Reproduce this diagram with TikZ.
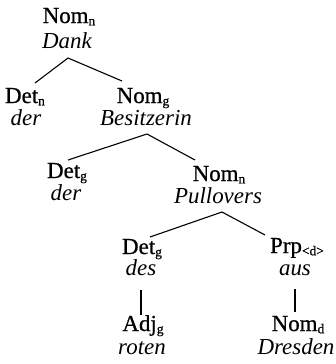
\documentclass[tikz,border=0pt]{standalone}
\usepackage{fontspec}
\setmainfont{Liberation Serif}
\newfontfamily\treefont{Liberation Serif}[AutoFakeBold=0.7]
\usetikzlibrary{calc}
\newcommand\lowsub[1]{\raisebox{-0.1em}[0pt][0pt]{\fontsize{13.5}{14}\selectfont #1}}
\tikzset{
  cat/.style={anchor=base,inner sep=0pt,font=\treefont\bfseries\fontsize{23}{24}\selectfont},
  word/.style={anchor=base,inner sep=0pt,font=\treefont\bfseries\fontsize{23}{24}\selectfont\itshape},
  edge/.style={draw=black,line width=1.1bp}
}
\begin{document}
\begin{tikzpicture}[x=1bp,y=-1bp]
\useasboundingbox (0,0) rectangle (336,364);
% level 1
\node[cat]  (c1) at (69,23)  {Nom\lowsub{n}};
\node[word] (w1) at (67,48)  {Dank};
% level 2
\node[cat]  (c2) at (25,103) {Det\lowsub{n}};
\node[word] (w2) at (26,125) {der};
\node[cat]  (c3) at (143,103) {Nom\lowsub{g}};
\node[word] (w3) at (146,125) {Besitzerin};
% level 3
\node[cat]  (c4) at (67,178) {Det\lowsub{g}};
\node[word] (w4) at (66,200) {der};
\node[cat]  (c5) at (219,181) {Nom\lowsub{n}};
\node[word] (w5) at (218,203) {Pullovers};
% level 4
\node[cat]  (c6) at (142,254) {Det\lowsub{g}};
\node[word] (w6) at (141,275) {des};
\node[cat]  (c7) at (297,253) {Prp\lowsub{<d>}};
\node[word] (w7) at (295,275) {aus};
% level 5
\node[cat]  (c8) at (143,331) {Adj\lowsub{g}};
\node[word] (w8) at (142,354) {roten};
\node[cat]  (c9) at (298,331) {Nom\lowsub{d}};
\node[word] (w9) at (296,354) {Dresden};
% connectors
\draw[edge] ($(c2.base)+(10,-20)$) -- ($(w1.base)+(1,10)$) -- ($(c3.base)+(-21,-22)$);
\draw[edge] ($(c4.base)+(1,-18)$) -- ($(w3.base)+(1,9)$) -- ($(c5.base)+(-24,-21)$);
\draw[edge] ($(c6.base)+(8,-17)$) -- ($(w5.base)+(4,9)$) -- ($(c7.base)+(-32,-18)$);
\draw[edge] ($(w6.base)+(0,15)$) -- ($(c8.base)+(-2,-16)$);
\draw[edge] ($(w7.base)+(0,14)$) -- ($(c9.base)+(-3,-19)$);
\end{tikzpicture}
\end{document}
